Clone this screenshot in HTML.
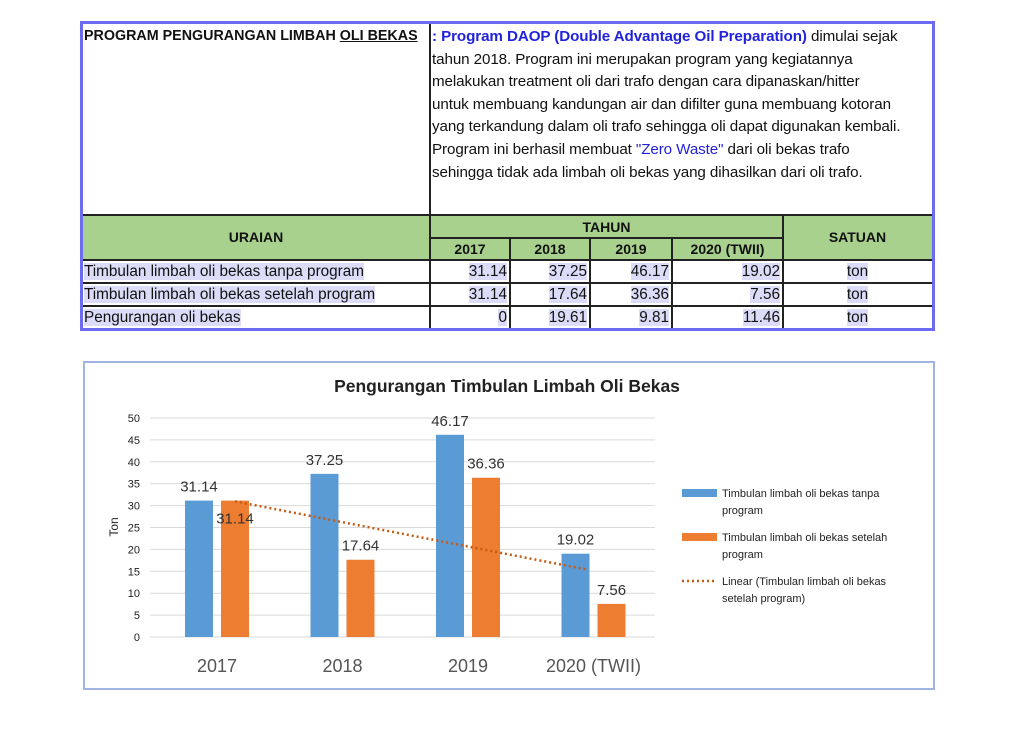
<!DOCTYPE html>
<html><head><meta charset="utf-8"><style>
body{margin:0;width:1023px;height:732px;background:#fff;position:relative;overflow:hidden;font-family:"Liberation Sans",sans-serif;color:#111}
.a{position:absolute;white-space:nowrap}
.hl{background:#dcdcf8}
.c{position:absolute;box-sizing:border-box}
.desc{font-size:15.2px;line-height:22.6px;letter-spacing:-0.1px}
.cell{font-size:14px;position:absolute;white-space:nowrap}
.lbl{font-size:15.3px}
</style></head><body>
<div>
<div class="c" style="left:80px;top:21px;width:855px;height:310px;border:3px solid #6b6bf0"></div>
<div class="c" style="left:83px;top:215px;width:849px;height:45px;background:#a9d18e"></div>
<div class="c" style="left:429px;top:24px;width:2px;height:304px;background:#222"></div>
<div class="c" style="left:83px;top:214px;width:849px;height:2px;background:#222"></div>
<div class="c" style="left:429px;top:237px;width:354px;height:2px;background:#222"></div>
<div class="c" style="left:83px;top:259px;width:849px;height:2px;background:#222"></div>
<div class="c" style="left:83px;top:282px;width:849px;height:2px;background:#222"></div>
<div class="c" style="left:83px;top:305px;width:849px;height:2px;background:#222"></div>
<div class="c" style="left:509px;top:238px;width:2px;height:90px;background:#222"></div>
<div class="c" style="left:589px;top:238px;width:2px;height:90px;background:#222"></div>
<div class="c" style="left:671px;top:238px;width:2px;height:90px;background:#222"></div>
<div class="c" style="left:782px;top:215px;width:2px;height:113px;background:#222"></div>
<div class="a" style="left:84px;top:28px;font-size:14.3px;font-weight:bold">PROGRAM PENGURANGAN LIMBAH <u>OLI BEKAS</u></div>
<div class="a desc" style="left:432px;top:26px">
<span style="color:#2222dd;font-weight:bold">: Program DAOP (Double Advantage Oil Preparation)</span> dimulai sejak<br>tahun 2018. Program ini merupakan program yang kegiatannya<br>melakukan treatment oli dari trafo dengan cara dipanaskan/hitter<br>untuk membuang kandungan air dan difilter guna membuang kotoran<br>yang terkandung dalam oli trafo sehingga oli dapat digunakan kembali.<br>Program ini berhasil membuat <span style="color:#2222dd">"Zero Waste"</span> dari oli bekas trafo<br>sehingga tidak ada limbah oli bekas yang dihasilkan dari oli trafo.</div>
<div class="cell" style="left:83px;width:346px;text-align:center;top:229px;font-weight:bold">URAIAN</div>
<div class="cell" style="left:430px;width:353px;text-align:center;top:219px;font-weight:bold">TAHUN</div>
<div class="cell" style="left:783px;width:149px;text-align:center;top:229px;font-weight:bold">SATUAN</div>
<div class="cell" style="left:430px;width:80px;text-align:center;top:241px;font-weight:bold">2017</div>
<div class="cell" style="left:510px;width:80px;text-align:center;top:241px;font-weight:bold">2018</div>
<div class="cell" style="left:590px;width:82px;text-align:center;top:241px;font-weight:bold">2019</div>
<div class="cell" style="left:672px;width:111px;text-align:center;top:241px;font-weight:bold">2020 (TWII)</div>
<div id="rows"></div>
</div>
<div class="c" style="left:83px;top:361px;width:852px;height:329px;border:2px solid #9fb4e0"></div>
<svg id="chart" width="1023" height="732" style="position:absolute;left:0;top:0" font-family="Liberation Sans, sans-serif"></svg>
<script>
const categories=["2017","2018","2019","2020 (TWII)"];
const tanpa=[31.14,37.25,46.17,19.02];
const setelah=[31.14,17.64,36.36,7.56];
const pengurangan=[0,19.61,9.81,11.46];
const yTicks=[0,5,10,15,20,25,30,35,40,45,50];
const rowLabels=["Timbulan limbah oli bekas tanpa program","Timbulan limbah oli bekas setelah program","Pengurangan oli bekas"];
const fmt=v=>String(v);
const rows=document.getElementById('rows');
const colR=[507,587,669,780];
[tanpa,setelah,pengurangan].forEach((arr,i)=>{
  const top=263+i*23;
  const l=document.createElement('div');l.className='cell lbl';
  
  
  l.style.left='84px';l.style.top=top+'px';l.innerHTML='<span class="hl">'+rowLabels[i]+'</span>';rows.appendChild(l);
  arr.forEach((v,j)=>{const d=document.createElement('div');d.className='cell lbl';
    
    
    d.style.right=(1023-colR[j])+'px';d.style.top=top+'px';d.innerHTML='<span class="hl">'+fmt(v)+'</span>';rows.appendChild(d);});
  const s=document.createElement('div');s.className='cell lbl';
  
  
  s.style.left='783px';s.style.width='149px';s.style.textAlign='center';s.style.top=top+'px';s.innerHTML='<span class="hl">ton</span>';rows.appendChild(s);
});
const svg=document.getElementById('chart');const NS='http://www.w3.org/2000/svg';
function el(t,a,txt){const e=document.createElementNS(NS,t);for(const k in a)e.setAttribute(k,a[k]);if(txt!==undefined)e.textContent=txt;svg.appendChild(e);return e;}
const y0=637,yMax=50,yH=219;const y=v=>y0-v/yMax*yH;
const x=i=>217+i*125.5;
let t=el('text',{x:507,y:392,'font-size':17.5,'font-weight':'bold','text-anchor':'middle',fill:'#222'},'Pengurangan Timbulan Limbah Oli Bekas');

yTicks.forEach(v=>{let g=el('line',{x1:150,x2:655,y1:y(v),y2:y(v),stroke:'#d9d9d9','stroke-width':1});

let l=el('text',{x:140,y:y(v)+4,'font-size':11,'text-anchor':'end',fill:'#222'},v);
});
t=el('text',{x:0,y:0,'font-size':12,'text-anchor':'middle',fill:'#222',transform:'translate(118,527) rotate(-90)'},'Ton');

categories.forEach((c,i)=>{
  let b=el('rect',{x:x(i)-32,y:y(tanpa[i]),width:28,height:y0-y(tanpa[i]),fill:'#5b9bd5'});
  
  b=el('rect',{x:x(i)+4,y:y(setelah[i]),width:28,height:y0-y(setelah[i]),fill:'#ed7d31'});
  
  let l=el('text',{x:x(i)-18,y:y(tanpa[i])-9,'font-size':15,'text-anchor':'middle',fill:'#333'},fmt(tanpa[i]));
  
  l=el('text',{x:x(i)+18,y:y(setelah[i])+(i==0?23:-9),'font-size':15,'text-anchor':'middle',fill:'#333'},fmt(setelah[i]));
  
  l=el('text',{x:x(i),y:672,'font-size':18,'text-anchor':'middle',fill:'#555'},c);
  
});
const n=setelah.length;const mx=(n+1)/2;const my=setelah.reduce((a,b)=>a+b,0)/n;
let num=0,den=0;setelah.forEach((v,i)=>{num+=(i+1-mx)*(v-my);den+=(i+1-mx)**2;});
const sl=num/den;const f=k=>my+sl*(k-mx);
let tr=el('line',{x1:x(0)+18,y1:y(f(1)),x2:x(3)-6,y2:y(f(4)),stroke:'#c55a11','stroke-width':2.5,'stroke-dasharray':'2 3'});

const leg=[['#5b9bd5','Timbulan limbah oli bekas tanpa','program',0],['#ed7d31','Timbulan limbah oli bekas setelah','program',0],['#c55a11','Linear (Timbulan limbah oli bekas','setelah program)',1]];
leg.forEach((L,i)=>{const yy=493+i*44;
  let m=L[3]?el('line',{x1:682,x2:717,y1:yy,y2:yy,stroke:L[0],'stroke-width':2.5,'stroke-dasharray':'2 3'}):el('rect',{x:682,y:yy-4,width:35,height:8,fill:L[0]});
  
  let a=el('text',{x:722,y:yy+4,'font-size':11,fill:'#222'},L[1]);
  
  a=el('text',{x:722,y:yy+21,'font-size':11,fill:'#222'},L[2]);
  
});
</script>
</body></html>
